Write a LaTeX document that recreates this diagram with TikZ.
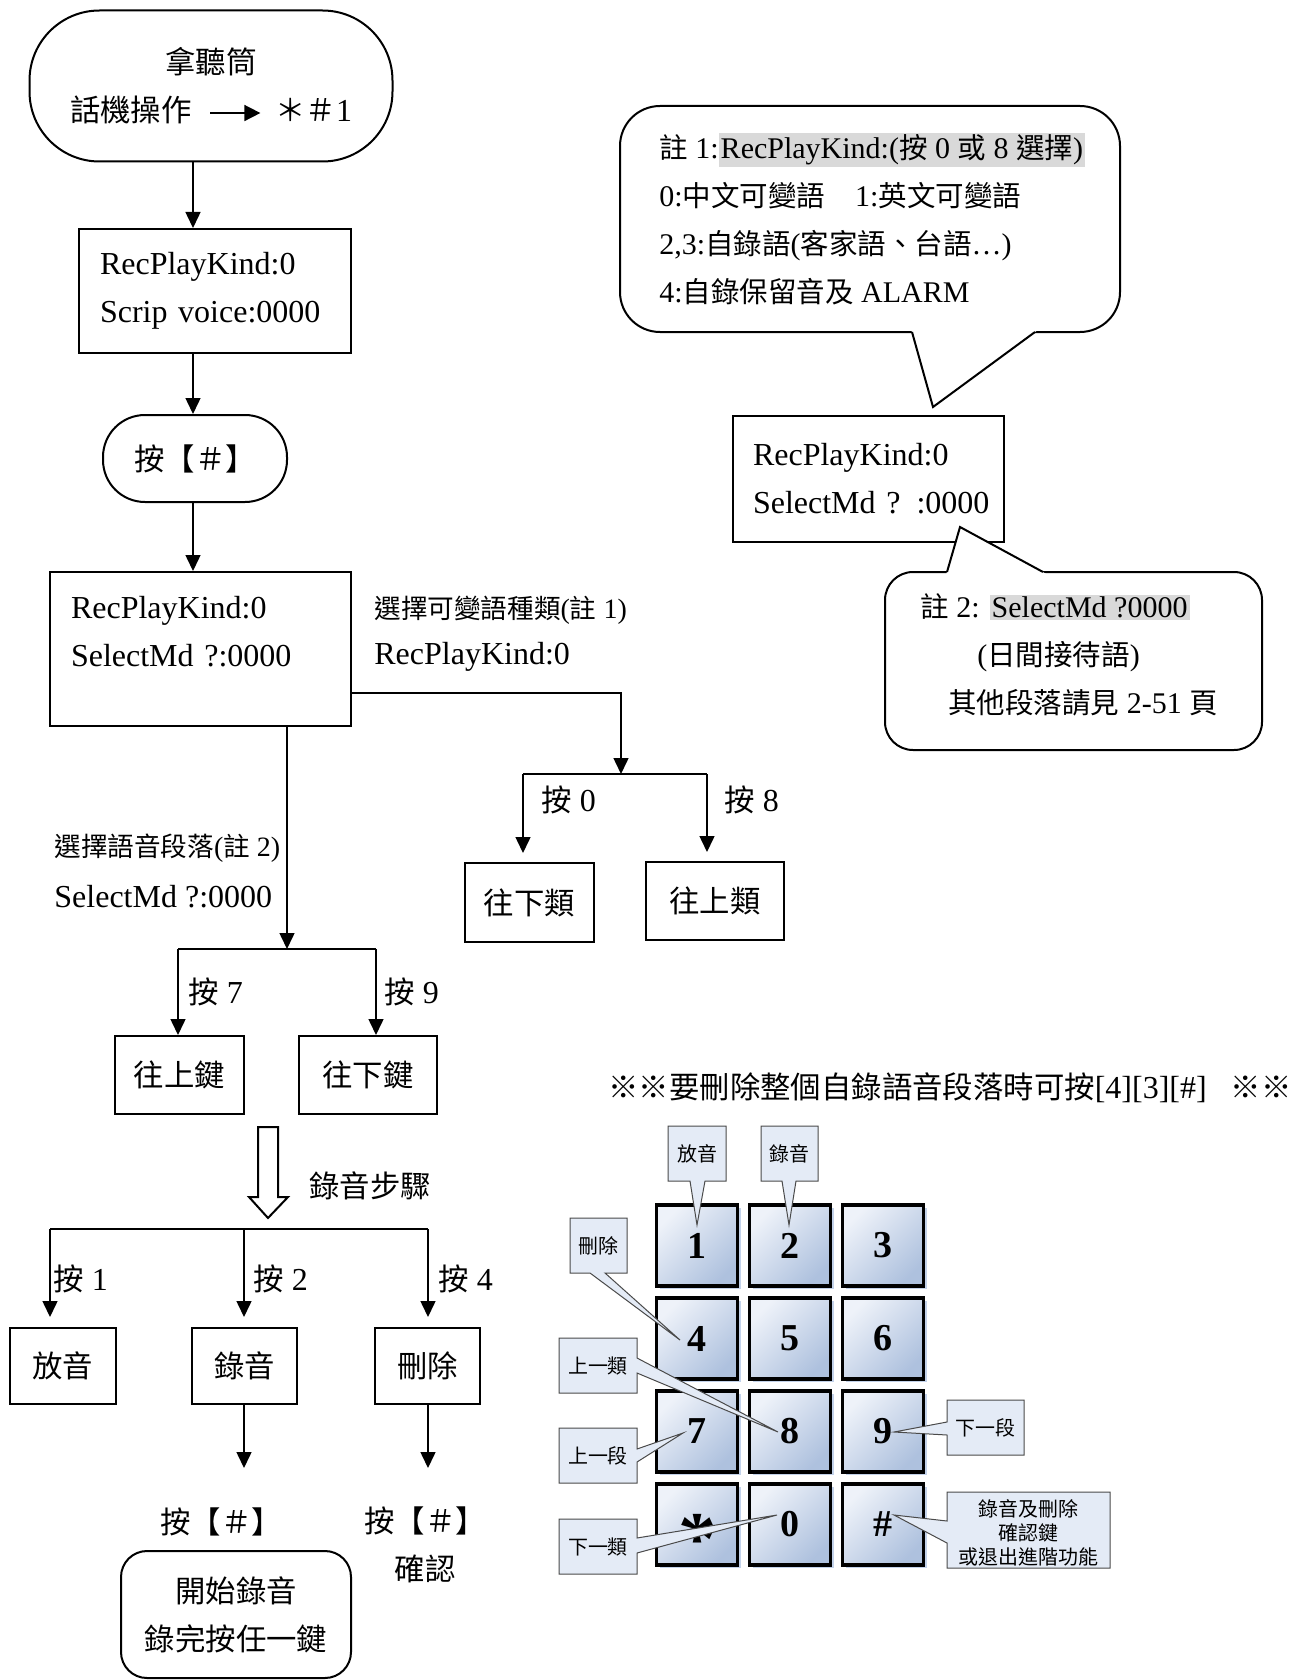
\documentclass[tikz,border=0pt]{standalone}
\usepackage{fontspec}
\setmainfont{Liberation Serif}
\newfontfamily\zh{Noto Sans CJK TC}[Scale=0.95]
\usetikzlibrary{arrows.meta,shadows}
\definecolor{keytop}{HTML}{EEF2F9}
\definecolor{keybot}{HTML}{AEC1DE}
\definecolor{keyshade}{HTML}{C3D2EA}
\definecolor{tipfill}{HTML}{E4EBF6}
\definecolor{tipline}{HTML}{4A4A4A}
\definecolor{hlgray}{HTML}{D9D9D9}
\newcommand{\graybg}[1]{{\setlength{\fboxsep}{1pt}\colorbox{hlgray}{#1}}}

\begin{document}
\begin{tikzpicture}[x=0.5pt, y=-0.5pt,
    every node/.style={font=\fontsize{16}{24}\selectfont, inner sep=0pt},
    flowbox/.style={draw, line width=1pt},
    leftbox/.style={flowbox, align=left},
    arr/.style={-{Triangle[length=8pt,width=7.5pt]}, line width=0.75pt},
    line/.style={line width=0.75pt},
    note/.style={draw, line width=1pt, fill=white},
    notetext/.style={anchor=west, align=left, font=\fontsize{15}{24}\selectfont},
    smalltext/.style={font=\fontsize{14}{18}\selectfont},
    key/.style={draw, line width=1.6pt, minimum size=40.5pt,
      top color=keytop, bottom color=keybot, shading angle=45,
      drop shadow={shadow xshift=1.6pt, shadow yshift=-1.6pt, fill=keyshade, opacity=1},
      font=\fontsize{19}{19}\selectfont\bfseries},
    tip/.style={draw=tipline, fill=tipfill, line width=0.5pt},
    tiptext/.style={font=\fontsize{10.5}{12}\selectfont\zh, align=center}]

  \useasboundingbox (0,0) rectangle (1309,1680);

  % main column
  \node[flowbox, rounded corners=35pt, minimum width=181.5pt, minimum height=75.5pt, align=center] (start) at (211,86)
    {{\zh 拿聽筒}\\{\zh 話機操作}\hspace{9pt}\tikz[baseline=-0.6ex]\draw[-{Triangle[length=8pt,width=8pt]}, line width=0.8pt] (0pt,0pt) -- (25pt,0pt);\hspace{7pt}{\zh ＊＃}1};
  \node[leftbox, minimum width=136pt, minimum height=62pt, text width=115pt] (scrip) at (215,291)
    {RecPlayKind:0\\Scrip voice:0000};
  \node[flowbox, rounded corners=21pt, minimum width=92pt, minimum height=43.5pt] (hash) at (195,458.5) {\zh 按【＃】};
  \node[leftbox, minimum width=150.5pt, minimum height=77pt, text width=129.5pt, text depth=42pt] (select) at (200.5,649)
    {RecPlayKind:0\\SelectMd ?:0000};

  \coordinate (col) at (193,0);
  \draw[arr] (start.south -| col) -- (scrip.north -| col);
  \draw[arr] (scrip.south -| col) -- (hash.north -| col);
  \draw[arr] (hash.south -| col) -- (select.north -| col);

  % kind branch
  \node[smalltext, anchor=west] (kindnote) at (374,610) {{\zh 選擇可變語種類}({\zh 註} 1)};
  \node[anchor=west] (kindval) at (374,657) {RecPlayKind:0};
  \coordinate (kindturn) at (621,693);
  \coordinate (kindfork) at (621,774);
  \coordinate (kindL) at (523,774);
  \coordinate (kindR) at (707,774);
  \draw[arr] (select.east |- kindturn) -- (kindturn) -- (kindfork);
  \draw[line] (kindL) -- (kindR);
  \node[flowbox, minimum width=64.5pt, minimum height=39.5pt] (down0) at (529.5,902.5) {\zh 往下類};
  \node[flowbox, minimum width=69pt, minimum height=39pt] (up8) at (715,901) {\zh 往上類};
  \draw[arr, shorten >=4.5pt] (kindL) -- (down0.north -| kindL);
  \draw[arr, shorten >=4.5pt] (kindR) -- (up8.north -| kindR);
  \node[anchor=west] (p0) at (541,800) {{\zh 按} 0};
  \node[anchor=west] (p8) at (724,800) {{\zh 按} 8};

  % segment branch
  \node[smalltext, anchor=west] (segnote) at (54,848) {{\zh 選擇語音段落}({\zh 註} 2)};
  \node[anchor=west] (segval) at (54,897) {SelectMd ?:0000};
  \coordinate (segfork) at (287,949);
  \coordinate (segL) at (178,949);
  \coordinate (segR) at (376,949);
  \draw[arr] (select.south -| segfork) -- (segfork);
  \draw[line] (segL) -- (segR);
  \node[flowbox, minimum width=64.5pt, minimum height=39pt] (up7) at (179.5,1075) {\zh 往上鍵};
  \node[flowbox, minimum width=69pt, minimum height=39pt] (down9) at (368,1075) {\zh 往下鍵};
  \draw[arr] (segL) -- (up7.north -| segL);
  \draw[arr] (segR) -- (down9.north -| segR);
  \node[anchor=west] (p7) at (188,992) {{\zh 按} 7};
  \node[anchor=west] (p9) at (384,992) {{\zh 按} 9};

  % recording steps
  \draw[line width=1pt] (258,1127) -- (278,1127) -- (278,1197) -- (288,1197) -- (268,1218)
    -- (249,1197) -- (258,1197) -- cycle;
  \node[anchor=west] (steps) at (309,1186) {\zh 錄音步驟};
  \coordinate (recL) at (50,1229);
  \coordinate (recM) at (244,1229);
  \coordinate (recR) at (428,1229);
  \draw[line] (recL) -- (recR);
  \node[flowbox, minimum width=53pt, minimum height=38pt] (play) at (63,1366) {\zh 放音};
  \node[flowbox, minimum width=52.5pt, minimum height=38pt] (rec) at (244.5,1366) {\zh 錄音};
  \node[flowbox, minimum width=52.5pt, minimum height=38pt] (del) at (427.5,1366) {\zh 刪除};
  \draw[arr, shorten >=5pt] (recL) -- (play.north -| recL);
  \draw[arr, shorten >=5pt] (recM) -- (rec.north -| recM);
  \draw[arr, shorten >=5pt] (recR) -- (del.north -| recR);
  \node[anchor=west] (p1) at (53,1279) {{\zh 按} 1};
  \node[anchor=west] (p2) at (253,1279) {{\zh 按} 2};
  \node[anchor=west] (p4) at (438,1279) {{\zh 按} 4};
  \coordinate (recend) at (244,1468);
  \coordinate (delend) at (428,1468);
  \draw[arr] (rec.south -| recend) -- (recend);
  \draw[arr] (del.south -| delend) -- (delend);
  \node (rechash) at (221,1522) {\zh 按【＃】};
  \node[align=center] (delhash) at (425,1545) {{\zh 按【＃】}\\{\zh 確認}};
  \node[flowbox, rounded corners=13pt, minimum width=115pt, minimum height=63.5pt, align=center] (recstart) at (236,1614.5)
    {{\zh 開始錄音}\\{\zh 錄完按任一鍵}};

  % note 1
  \draw[note, rounded corners=20pt] (620,106) rectangle (1120,332);
  \fill[white] (908,318) -- (933,407) -- (1054,318) -- cycle;
  \draw[line width=1pt] (912,332) -- (933,407) -- (1035,332);
  \node[notetext] (note1) at (659,219)
    {{\zh 註} 1:\graybg{RecPlayKind:({\zh 按} 0 {\zh 或} 8 {\zh 選擇})}\\
     0:{\zh 中文可變語}\quad 1:{\zh 英文可變語}\\
     2,3:{\zh 自錄語}({\zh 客家語、台語}…)\\
     4:{\zh 自錄保留音及} ALARM};

  \node[leftbox, minimum width=135.5pt, minimum height=63pt, text width=115.5pt] (mode) at (868.5,479)
    {RecPlayKind:0\\\mbox{SelectMd ? :0000}};

  % note 2
  \draw[note, rounded corners=14pt] (885,572) rectangle (1262,750);
  \fill[white] (944,582) -- (960,527) -- (1061,582) -- cycle;
  \draw[line width=1pt] (947,572) -- (960,527) -- (1043,572);
  \node[notetext] (note2) at (920,655)
    {{\zh 註} 2: \graybg{SelectMd ?0000}\\
     \hspace*{28.5pt}({\zh 日間接待語})\\
     \hspace*{14pt}{\zh 其他段落請見} 2-51 {\zh 頁}};

  % keypad
  \node (delall) at (950,1088) {{\zh ※※要刪除整個自錄語音段落時可按}[4][3][\#]\hspace{12pt}{\zh ※※}};
  \matrix[column sep=4.4pt, row sep=4.4pt] (pad) at (790,1385) {
    \node[key] (k1) {1}; & \node[key] (k2) {2}; & \node[key] (k3) {3}; \\
    \node[key] (k4) {4}; & \node[key] (k5) {5}; & \node[key] (k6) {6}; \\
    \node[key] (k7) {7}; & \node[key] (k8) {8}; & \node[key] (k9) {9}; \\
    \node[key] (kstar) {\raisebox{-20pt}[0pt][0pt]{\fontsize{38}{38}\selectfont *}}; &
    \node[key] (k0) {0}; & \node[key] (khash) {\#}; \\
  };

  \filldraw[tip] (668,1126) -- (726,1126) -- (726,1181) -- (705,1181) -- (697,1225) -- (690,1181) -- (668,1181) -- cycle;
  \node[tiptext] (tplay) at (697,1153.5) {放音};
  \filldraw[tip] (761,1126) -- (818,1126) -- (818,1181) -- (796,1181) -- (789,1225) -- (782,1181) -- (761,1181) -- cycle;
  \node[tiptext] (trec) at (789.5,1153.5) {錄音};
  \filldraw[tip] (570,1218) -- (627,1218) -- (627,1273) -- (605,1273) -- (680,1340) -- (590,1273) -- (570,1273) -- cycle;
  \node[tiptext] (tdel) at (598.5,1245.5) {刪除};
  \filldraw[tip] (559,1338) -- (637,1338) -- (637,1358) -- (778,1432) -- (637,1373) -- (637,1393) -- (559,1393) -- cycle;
  \node[tiptext] (tupkind) at (598,1365.5) {上一類};
  \filldraw[tip] (559,1428) -- (637,1428) -- (637,1449) -- (683,1433) -- (637,1462) -- (637,1483) -- (559,1483) -- cycle;
  \node[tiptext] (tupseg) at (598,1455.5) {上一段};
  \filldraw[tip] (559,1519) -- (637,1519) -- (637,1538) -- (777,1515) -- (637,1553) -- (637,1574) -- (559,1574) -- cycle;
  \node[tiptext] (tdownkind) at (598,1546.5) {下一類};
  \filldraw[tip] (947,1400) -- (1024,1400) -- (1024,1455) -- (947,1455) -- (947,1435) -- (894,1432) -- (947,1422) -- cycle;
  \node[tiptext] (tdownseg) at (985.5,1427.5) {下一段};
  \filldraw[tip] (947,1492) -- (1110,1492) -- (1110,1568) -- (947,1568) -- (947,1543) -- (894,1515) -- (947,1521) -- cycle;
  \node[tiptext] (tconfirm) at (1028.5,1533) {錄音及刪除\\確認鍵\\或退出進階功能};
\end{tikzpicture}
\end{document}
